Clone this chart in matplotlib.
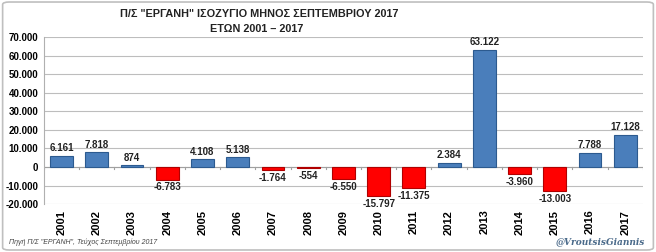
import matplotlib
matplotlib.use("Agg")
import matplotlib.pyplot as plt
from matplotlib.patches import FancyBboxPatch
import numpy as np

years = ["2001", "2002", "2003", "2004", "2005", "2006", "2007", "2008", "2009",
         "2010", "2011", "2012", "2013", "2014", "2015", "2016", "2017"]
values = [6161, 7818, 874, -6783, 4108, 5138, -1764, -554, -6550,
          -15797, -11375, 2384, 63122, -3960, -13003, 7788, 17128]
y_ticks = [-20000, -10000, 0, 10000, 20000, 30000, 40000, 50000, 60000, 70000]

plt.rcParams['font.family'] = ['Liberation Sans', 'DejaVu Sans']

def fmt(v):
    s = f"{abs(v):,}".replace(",", ".")
    return ("-" if v < 0 else "") + s

fig = plt.figure(figsize=(6.56, 2.52), dpi=100)
fig.patches.append(FancyBboxPatch((0.004, 0.008), 0.992, 0.984, boxstyle="round,pad=0,rounding_size=0.01",
                                  transform=fig.transFigure, fill=False, edgecolor="#bfbfbf", linewidth=1.2))
ax = fig.add_axes([0.067, 0.19, 0.913, 0.663])

x = np.arange(len(years))
colors = ["#4a7ebb" if v >= 0 else "#ff0000" for v in values]
edges = ["#2c5a8f" if v >= 0 else "#b00000" for v in values]
ax.bar(x, values, width=0.65, color=colors, edgecolor=edges, linewidth=0.8, zorder=3)

for xi, v in zip(x, values):
    if v >= 0:
        ax.text(xi, v + 1500, fmt(v), ha="center", va="bottom", fontsize=7, fontweight="bold", color="#222222", zorder=4)
    else:
        ax.text(xi, v - 1500, fmt(v), ha="center", va="top", fontsize=7, fontweight="bold", color="#222222", zorder=4)

ax.set_xlim(-0.5, len(years) - 0.5)
ax.set_ylim(-20000, 70000)
ax.set_yticks(y_ticks)
ax.set_yticklabels([fmt(t) for t in y_ticks], fontsize=7, fontweight="bold")
ax.yaxis.grid(True, color="#bdbdbd", linewidth=0.8, zorder=0)
ax.tick_params(axis="y", length=0, pad=4)
ax.set_xticks(x)
ax.set_xticklabels(years, rotation=90, fontsize=8, fontweight="bold")
ax.tick_params(axis="x", length=0, pad=4)
for s in ["top", "right", "bottom"]:
    ax.spines[s].set_visible(False)
ax.spines["left"].set_color("#b0b0b0")

ax.axhline(0, color="#a0a0a0", linewidth=0.8, zorder=2)
for b in np.arange(-0.5, len(years), 1.0):
    ax.plot([b, b], [0, -1300], color="#a0a0a0", linewidth=0.8, zorder=2)

fig.text(0.395, 0.945, 'Π/Σ "ΕΡΓΑΝΗ" ΙΣΟΖΥΓΙΟ ΜΗΝΟΣ ΣΕΠΤΕΜΒΡΙΟΥ 2017', ha="center", va="center",
         fontsize=7.8, fontweight="bold", color="#222222")
fig.text(0.392, 0.885, 'ΕΤΩΝ 2001 – 2017', ha="center", va="center",
         fontsize=7.8, fontweight="bold", color="#222222")
fig.text(0.013, 0.04, 'Πηγή Π/Σ "ΕΡΓΑΝΗ", Τεύχος Σεπτεμβρίου 2017', ha="left", va="center",
         fontsize=5, style="italic", color="#444444")
fig.text(0.983, 0.04, '@VroutsisGiannis', ha="right", va="center",
         fontsize=6.5, style="italic", fontweight="bold", color="#4a6a8a", family=["DejaVu Serif"])

fig.savefig("out.png", dpi=100)
